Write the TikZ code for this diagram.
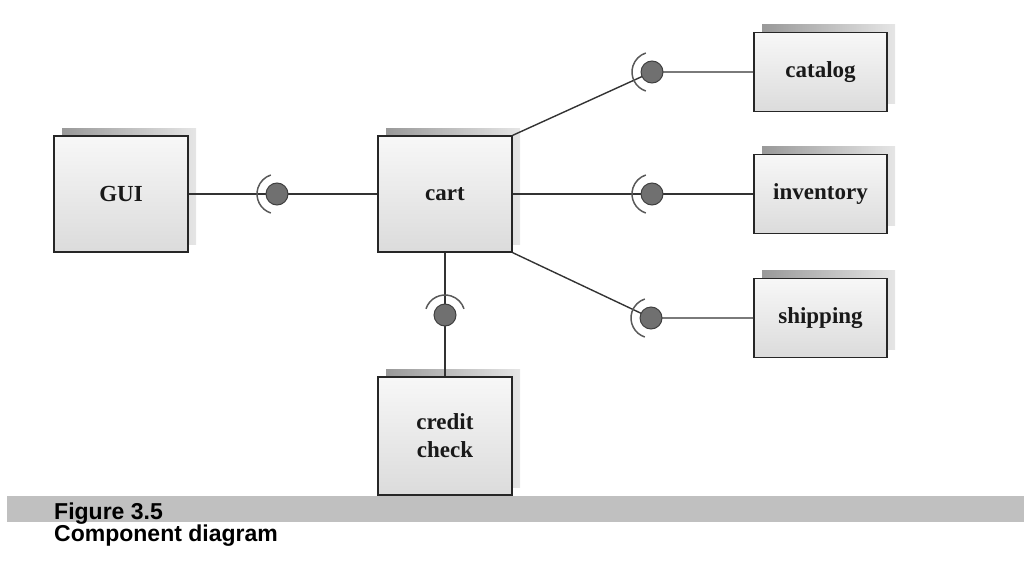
\documentclass[tikz,border=0pt]{standalone}
\usepackage{fontspec}
\setmainfont{Liberation Serif}
\newfontfamily\capfont{Liberation Sans}
\usetikzlibrary{shadows}
\definecolor{capband}{HTML}{C0C0C0}
\definecolor{ballgray}{HTML}{707070}
\begin{document}
\begin{tikzpicture}[x=1pt,y=-1pt,
  comp/.style={draw=black!85, line width=1.3pt, inner sep=0pt,
    top color=gray!6, bottom color=gray!28,
    font=\fontsize{23}{28}\selectfont\bfseries, text=black!90, align=center,
    general shadow={shadow xshift=8pt, shadow yshift=8pt, left color=gray!80, right color=gray!20}},
  bigcomp/.style={comp, minimum width=134pt, minimum height=116pt},
  smallcomp/.style={comp, minimum width=133pt, minimum height=79pt},
  wire/.style={draw=black!80, line width=1.4pt},
  socket/.pic={
    \draw[black!65, line width=1.5pt] (108:20) arc[start angle=108, end angle=252, radius=20];
    \fill[ballgray, draw=black!75, line width=1pt] (0,0) circle (11);
  },
  captext/.style={font=\capfont\bfseries\fontsize{23}{26}\selectfont, anchor=base west, inner sep=0pt}
]
\useasboundingbox (0,0) rectangle (1024,567);

\node[bigcomp] (gui) at (121,194) {GUI};
\node[bigcomp] (cart) at (445,194) {cart};
\node[bigcomp, minimum height=118pt] (credit) at (445,436) {credit\\check};
\node[smallcomp] (catalog) at (820.5,72) {catalog};
\node[smallcomp] (inventory) at (820.5,194) {inventory};
\node[smallcomp] (shipping) at (820.5,318) {shipping};

\coordinate (s0) at (277,194);
\coordinate (s1) at (652,72);
\coordinate (s2) at (652,194);
\coordinate (s3) at (651,318);
\coordinate (s4) at (445,315);

\draw[wire] (gui) -- (cart);
\draw[wire] (cart.north east) -- (s1) -- (catalog.west);
\draw[wire] (cart) -- (inventory);
\draw[wire] (cart.south east) -- (s3) -- (shipping.west);
\draw[wire] (cart.south) -- (credit.north);

\pic at (s0) {socket};
\pic at (s1) {socket};
\pic at (s2) {socket};
\pic at (s3) {socket};
\pic[rotate=-90] at (s4) {socket};

\fill[capband] (7,496) rectangle (1024,522);
\node[captext] (fig) at (54,519) {Figure 3.5};
\node[captext] (title) at (54,541) {Component diagram};
\end{tikzpicture}
\end{document}
